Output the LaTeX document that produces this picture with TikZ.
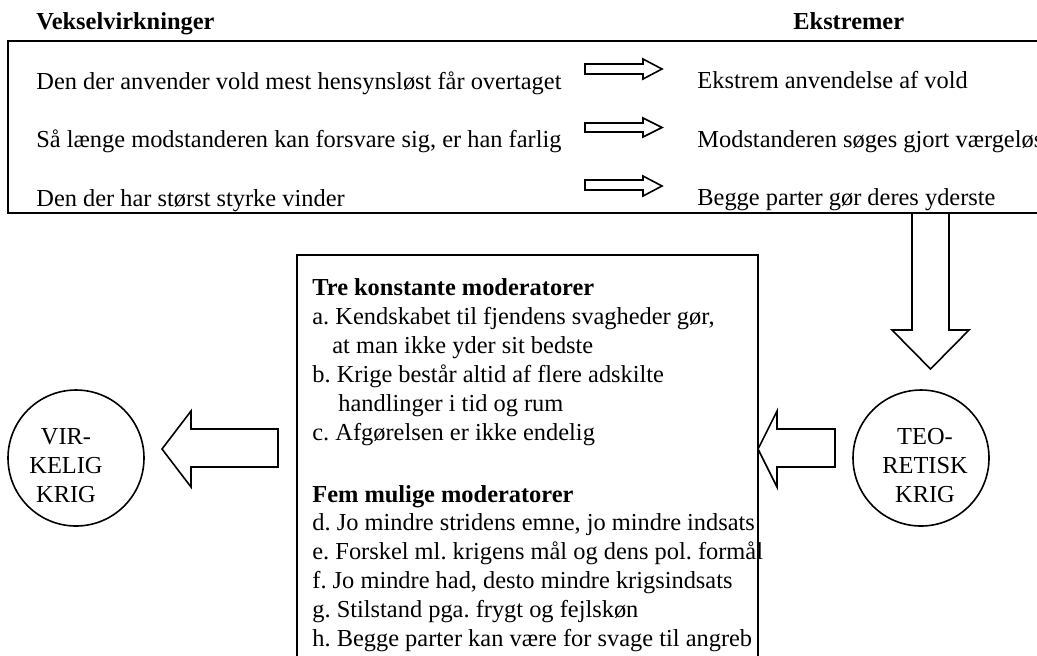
\documentclass[tikz,border=0pt]{standalone}
\usepackage{fontspec}
\setmainfont{Liberation Serif}
\frenchspacing

\begin{document}
\begin{tikzpicture}[x=0.5pt,y=-0.5pt,
	txt/.style={anchor=base west,inner sep=0pt,font=\fontsize{12.2}{14.5}\selectfont},
	hdr/.style={anchor=base west,inner sep=0pt,font=\fontsize{12.2}{14.5}\selectfont\bfseries},
	ring/.style={draw,circle,line width=0.8pt,minimum size=68pt,inner sep=0pt},
	ringtxt/.style={align=center,inner sep=0pt,font=\fontsize{12.2}{14.5}\selectfont},
	blockarrow/.style={draw,line width=0.8pt,line join=miter}]
	\useasboundingbox (0,0) rectangle (1037,655);
	\clip (0,0) rectangle (1037,655);
	
	% top box
	\node[hdr] (vekselhdr) at (36,29) {Vekselvirkninger};
	\node[hdr] (ekstrhdr) at (793,29) {Ekstremer};
	\draw[line width=1.1pt] (8,41) rectangle (1060,213);
	\node[txt] (veksel1) at (36,89) {Den der anvender vold mest hensynsløst får overtaget};
	\node[txt] (veksel2) at (36,147) {Så længe modstanderen kan forsvare sig, er han farlig};
	\node[txt] (veksel3) at (36,206) {Den der har størst styrke vinder};
	\node[txt] (ekstr1) at (697,88) {Ekstrem anvendelse af vold};
	\node[txt] (ekstr2) at (697,147) {Modstanderen søges gjort værgeløs};
	\node[txt] (ekstr3) at (697,205) {Begge parter gør deres yderste};
	\draw[blockarrow] (585,64) -- (643,64) -- (643,59) -- (662,69) -- (643,79) -- (643,74) -- (585,74) -- cycle;
	\draw[blockarrow] (585,123) -- (643,123) -- (643,118) -- (662,127.5) -- (643,137) -- (643,132) -- (585,132) -- cycle;
	\draw[blockarrow] (585,180) -- (643,180) -- (643,176) -- (662,186) -- (643,196) -- (643,190) -- (585,190) -- cycle;
	
	% down arrow
	\draw[blockarrow] (912,213) -- (949,213) -- (949,330) -- (969,330) -- (930.5,369) -- (892,330) -- (912,330) -- cycle;
	
	% circles
	\node[ring] (teo) at (921,458) {};
	\node[ringtxt] (teotxt) at (925,466) {TEO-\\RETISK\\KRIG};
	\node[ring] (virk) at (76,458) {};
	\node[ringtxt] (virktxt) at (66,466) {VIR-\\KELIG\\KRIG};
	
	% moderator box
	\draw[line width=1pt] (297,255) rectangle (758,700);
	\node[hdr] (konsthdr) at (312,295) {Tre konstante moderatorer};
	\node[txt] (modA) at (312,324) {a. Kendskabet til fjendens svagheder gør,};
	\node[txt] (modA2) at (332,353) {at man ikke yder sit bedste};
	\node[txt] (modB) at (312,382) {b. Krige består altid af flere adskilte};
	\node[txt] (modB2) at (338,411) {handlinger i tid og rum};
	\node[txt] (modC) at (312,440) {c. Afgørelsen er ikke endelig};
	\node[hdr] (mulighdr) at (312,502) {Fem mulige moderatorer};
	\node[txt] (modD) at (312,530) {d. Jo mindre stridens emne, jo mindre indsats};
	\node[txt] (modE) at (312,559) {e. Forskel ml. krigens mål og dens pol. formål};
	\node[txt] (modF) at (312,588) {f. Jo mindre had, desto mindre krigsindsats};
	\node[txt] (modG) at (312,617) {g. Stilstand pga. frygt og fejlskøn};
	\node[txt] (modH) at (312,646) {h. Begge parter kan være for svage til angreb};
	
	% side arrows
	\draw[blockarrow] (835,429) -- (777,429) -- (777,411) -- (758,449) -- (777,487) -- (777,467) -- (835,467) -- cycle;
	\draw[blockarrow] (278,429) -- (191,429) -- (191,411) -- (162,449) -- (191,487) -- (191,467) -- (278,467) -- cycle;
\end{tikzpicture}
\end{document}
